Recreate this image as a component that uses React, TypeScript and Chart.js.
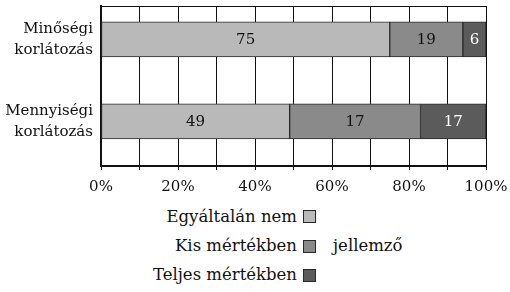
import React, { useEffect, useRef } from "react";
import { Chart, registerables } from "chart.js";

Chart.register(...registerables);

const categories: string[][] = [["Minőségi", "korlátozás"], ["Mennyiségi", "korlátozás"]];
const seriesNames = ["Egyáltalán nem", "Kis mértékben", "Teljes mértékben"];
const notAtAll = [75, 49];
const smallExtent = [19, 34];
const fullExtent = [6, 17];
const notAtAllLabels = ["75", "49"];
const smallLabels = ["19", "17"];
const fullLabels = ["6", "17"];
const xTicks = [0, 10, 20, 30, 40, 50, 60, 70, 80, 90, 100];

const colors = ["#b9b9b9", "#8a8a8a", "#5b5b5b"];
const labelColors = ["#111", "#111", "#fff"];
const FONT = "'DejaVu Serif', serif";

export default function App() {
  const ref = useRef<HTMLCanvasElement | null>(null);
  useEffect(() => {
    if (!ref.current) return;
    const values = [notAtAll, smallExtent, fullExtent];
    const labels = [notAtAllLabels, smallLabels, fullLabels];
    const chart = new Chart(ref.current, {
      type: "bar",
      data: {
        datasets: values.map((arr, di) => ({
          label: seriesNames[di],
          data: arr.map((v, i) => ({ x: v, y: i })),
          backgroundColor: colors[di],
          borderColor: "#2a2a2a",
          borderWidth: 1,
          borderSkipped: false,
          barThickness: 35,
        })),
      },
      options: {
        indexAxis: "y",
        responsive: false,
        animation: false,
        layout: { padding: { top: 6, right: 24, left: 0, bottom: 0 } },
        plugins: { legend: { display: false }, tooltip: { enabled: false } },
        scales: {
          x: {
            type: "linear",
            stacked: true,
            min: 0,
            max: 100,
            afterBuildTicks: (s: any) => {
              s.ticks = xTicks.map((v) => ({ value: v }));
            },
            afterFit: (s: any) => {
              s.height = 34;
              s.paddingLeft = 0;
              s.paddingRight = 0;
            },
            ticks: {
              callback: (v: any) => (Number(v) % 20 === 0 ? v + "%" : ""),
              color: "#111",
              font: { family: FONT, size: 15 },
              padding: 8,
              maxRotation: 0,
              autoSkip: false,
            },
            grid: { color: "#111", lineWidth: 1, tickLength: 4, drawTicks: true },
            border: { display: true, color: "#111", width: 2 },
          },
          y: {
            type: "linear",
            stacked: true,
            offset: false,
            reverse: true,
            min: -0.406,
            max: 1.545,
            afterBuildTicks: (s: any) => {
              s.ticks = categories.map((_, i) => ({ value: i }));
            },
            afterFit: (s: any) => {
              s.width = 101;
              s.paddingTop = 0;
              s.paddingBottom = 0;
            },
            ticks: {
              callback: (v: any) => categories[Number(v)] ?? "",
              color: "#111",
              font: { family: FONT, size: 15, lineHeight: 1.4 },
              padding: 8,
              autoSkip: false,
            },
            grid: { display: false, drawTicks: false, offset: false },
            border: { display: true, color: "#111", width: 2 },
          },
        },
      },
      plugins: [
        {
          id: "extras",
          afterDatasetsDraw(c: any) {
            const ctx = c.ctx;
            const a = c.chartArea;
            ctx.save();
            ctx.strokeStyle = "#111";
            ctx.lineWidth = 1;
            ctx.beginPath();
            ctx.moveTo(a.left, a.top + 0.5);
            ctx.lineTo(a.right, a.top + 0.5);
            ctx.stroke();
            ctx.font = "15px " + FONT;
            ctx.textAlign = "center";
            ctx.textBaseline = "middle";
            c.data.datasets.forEach((_: any, di: number) => {
              const meta = c.getDatasetMeta(di);
              meta.data.forEach((bar: any, i: number) => {
                const p = bar.getCenterPoint();
                ctx.fillStyle = labelColors[di];
                ctx.fillText(labels[di][i], p.x, p.y + 1);
              });
            });
            ctx.restore();
          },
        },
      ],
    } as any);
    return () => chart.destroy();
  }, []);

  const rowCenters = [216.5, 246, 275];
  const legendText: React.CSSProperties = {
    position: "absolute",
    height: 22,
    lineHeight: "22px",
    fontSize: 16.5,
    color: "#111",
    whiteSpace: "nowrap",
  };
  return (
    <div style={{ position: "absolute", left: 0, top: 0, width: 510, height: 292, background: "#fff", fontFamily: FONT }}>
      <canvas ref={ref} width={510} height={200} style={{ position: "absolute", left: 0, top: 0, width: 510, height: 200 }} />
      {seriesNames.map((name, i) => (
        <React.Fragment key={name}>
          <div style={{ ...legendText, right: 510 - 297, top: rowCenters[i] - 11 }}>{name}</div>
          <div
            style={{
              position: "absolute",
              left: 303,
              top: rowCenters[i] - 6.5,
              width: 11,
              height: 11,
              background: colors[i],
              border: "1px solid #2a2a2a",
            }}
          />
        </React.Fragment>
      ))}
      <div style={{ ...legendText, left: 333, top: rowCenters[1] - 11 }}>jellemző</div>
    </div>
  );
}
